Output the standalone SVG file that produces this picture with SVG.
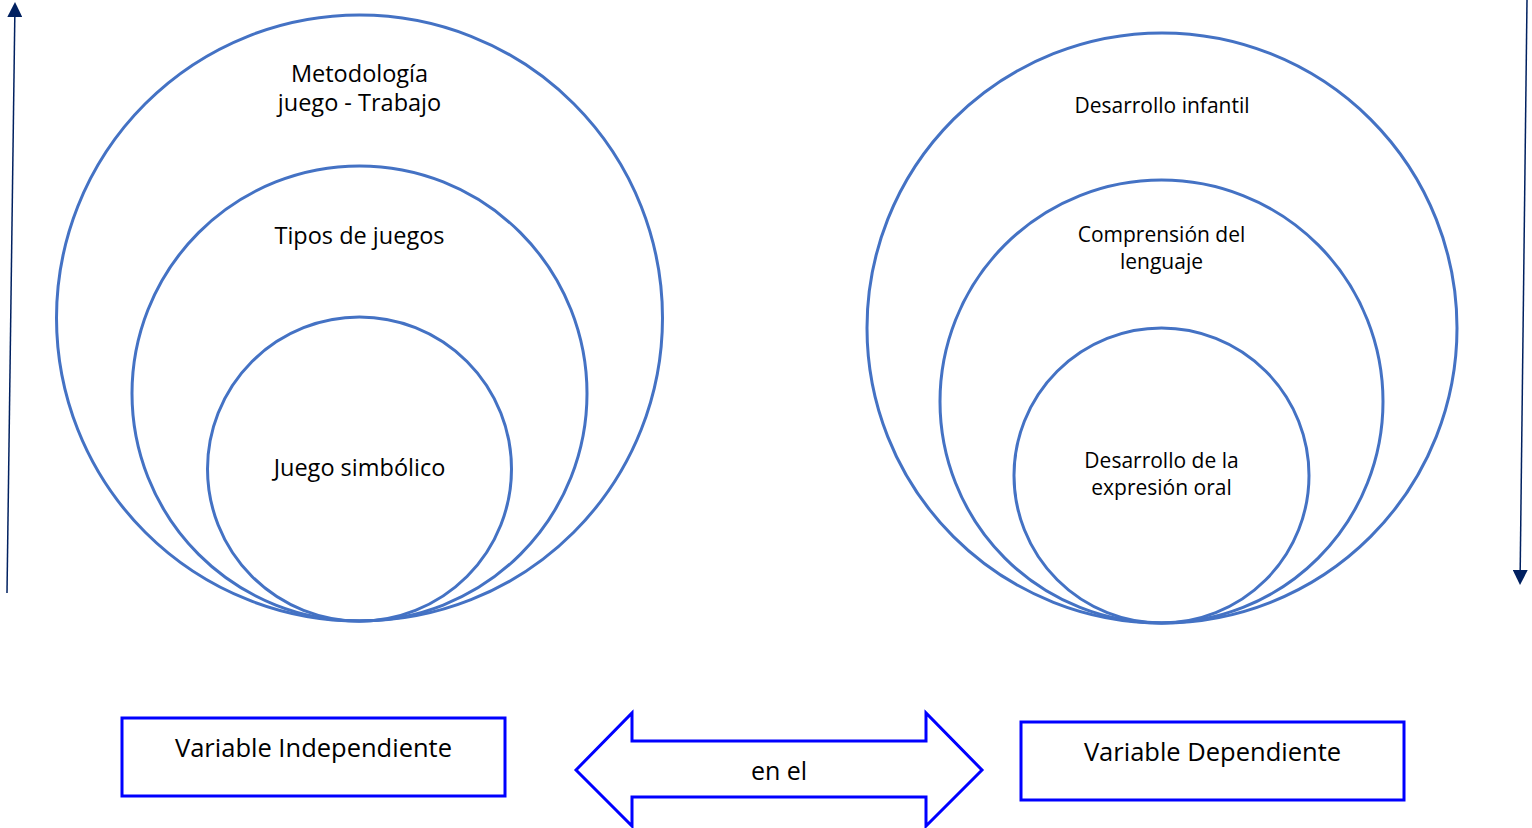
<svg xmlns="http://www.w3.org/2000/svg" width="1532" height="828" viewBox="0 0 1532 828">
<defs>
<style>
.c{fill:none;stroke:#4472C4;stroke-width:3}
.b{fill:#fff;stroke:#0000FF;stroke-width:3}
.t{font-family:"Open Sans","Noto Sans",sans-serif;fill:#000;text-anchor:middle}
.ax{stroke:#002060;stroke-width:1.5;fill:none}
</style>
<marker id="ah" viewBox="0 0 15 15" refX="0" refY="7.5" markerWidth="15" markerHeight="15" markerUnits="userSpaceOnUse" orient="auto"><path d="M0,0 L15,7.5 L0,15 z" fill="#002060"/></marker>
</defs>
<rect width="1532" height="828" fill="#fff"/>
<g id="connectors">
<line class="ax" x1="7" y1="593" x2="14.8" y2="17" marker-end="url(#ah)"/>
<line class="ax" x1="1527" y1="0" x2="1520.2" y2="570" marker-end="url(#ah)"/>
</g>
<g id="left-outer"><circle class="c" cx="359.5" cy="318" r="303"/>
<text class="t" x="359.5" y="82" font-size="23.5">Metodología</text>
<text class="t" x="359.5" y="111" font-size="23.5">juego - Trabajo</text></g>
<g id="left-middle"><circle class="c" cx="359.5" cy="393.5" r="227.5"/>
<text class="t" x="359.5" y="244" font-size="23.5">Tipos de juegos</text></g>
<g id="left-inner"><circle class="c" cx="359.5" cy="469" r="152"/>
<text class="t" x="359.5" y="476" font-size="23.5">Juego simbólico</text></g>
<g id="right-outer"><circle class="c" cx="1162" cy="328" r="295"/>
<text class="t" x="1162" y="113" font-size="21">Desarrollo infantil</text></g>
<g id="right-middle"><circle class="c" cx="1161.5" cy="401.5" r="221.5"/>
<text class="t" x="1161.5" y="242" font-size="21">Comprensión del</text>
<text class="t" x="1161.5" y="269" font-size="21">lenguaje</text></g>
<g id="right-inner"><circle class="c" cx="1161.5" cy="475.5" r="147.5"/>
<text class="t" x="1161.5" y="468" font-size="21">Desarrollo de la</text>
<text class="t" x="1161.5" y="495" font-size="21">expresión oral</text></g>
<g id="var-ind"><rect class="b" x="122" y="718" width="383" height="78"/>
<text class="t" x="313.5" y="757" font-size="25.5">Variable Independiente</text></g>
<g id="en-el"><path class="b" d="M576,770 L632,713 L632,741 L926,741 L926,713 L982,770 L926,826 L926,797 L632,797 L632,826 Z"/>
<text class="t" x="779" y="780" font-size="25">en el</text></g>
<g id="var-dep"><rect class="b" x="1021" y="722" width="383" height="78"/>
<text class="t" x="1212.5" y="761" font-size="25.5">Variable Dependiente</text></g>
</svg>
